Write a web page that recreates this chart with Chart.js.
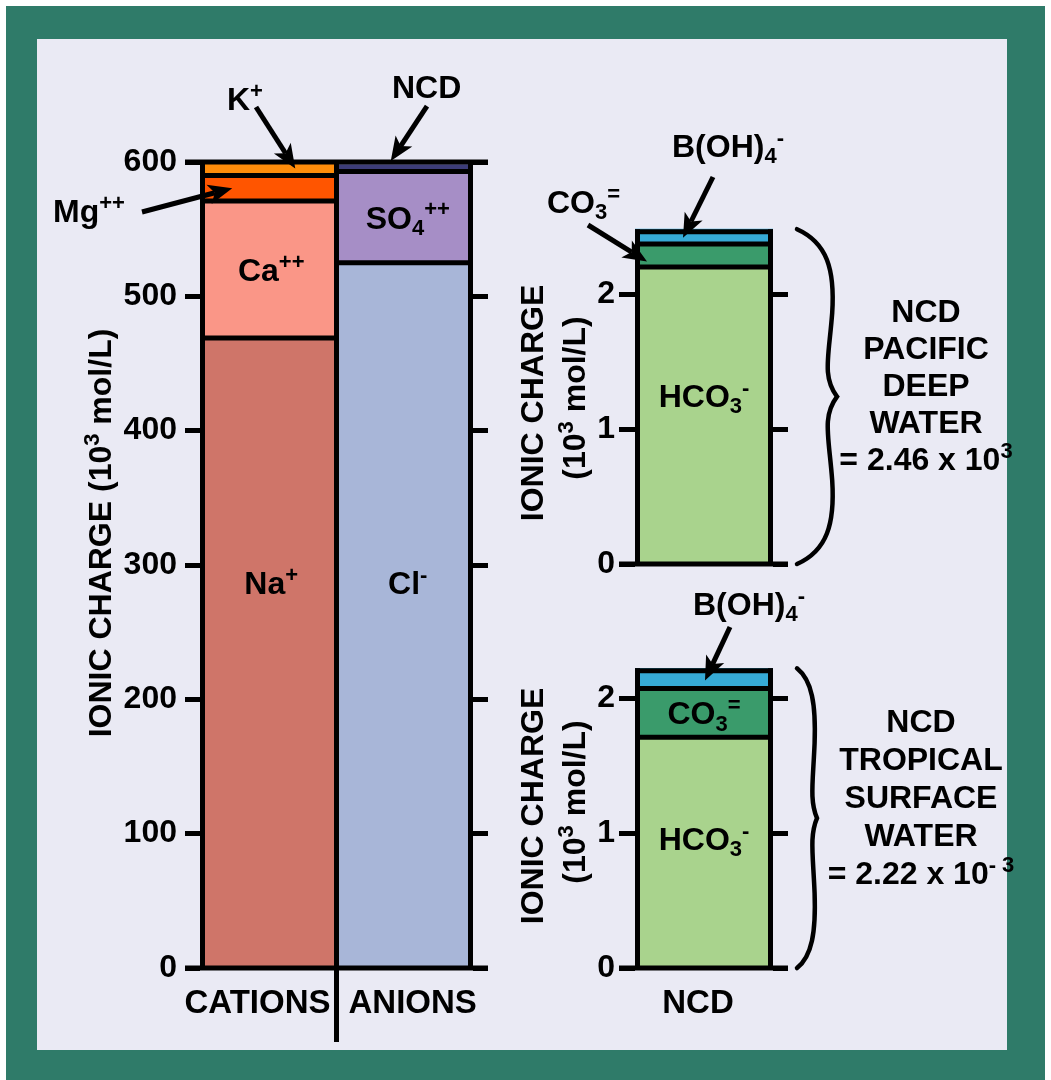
<!DOCTYPE html>
<html>
<head>
<meta charset="utf-8">
<script src="https://cdn.jsdelivr.net/npm/chart.js@4.4.1/dist/chart.umd.min.js"></script>
<style>
  html, body { margin: 0; padding: 0; background: #fff; }
  #frame { position: absolute; left: 6px; top: 6px; width: 1039px; height: 1074px; background: #2f7b69; }
  #panel { position: absolute; left: 37px; top: 39px; width: 970px; height: 1011px; background: #eaeaf4; }
  canvas { position: absolute; left: 0; top: 0; }
</style>
</head>
<body>
<div id="frame"></div>
<div id="panel"></div>
<canvas id="main" width="1051" height="1080"></canvas>
<canvas id="deep" width="1051" height="1080"></canvas>
<canvas id="surface" width="1051" height="1080"></canvas>
<script>
// seawater ionic charge (10^3 mol/L)
const mainCategories = ['CATIONS', 'ANIONS'];
const cationIons = ['Na^{+}', 'Ca^{++}', 'Mg^{++}', 'K^{+}'];
const cationValues = [469, 102, 19, 9];
const anionIons = ['Cl^{-}', 'SO_{4}^{++}', 'NCD'];
const anionValues = [525, 68, 5];
const mainTicks = [0, 100, 200, 300, 400, 500, 600];

// NCD bars
const ncdCategories = ['NCD'];
const ncdIons = ['HCO_{3}^{-}', 'CO_{3}^{=}', 'B(OH)_{4}^{-}'];
const deepValues = [2.2, 0.17, 0.11];
const surfaceValues = [1.71, 0.36, 0.15];
const ncdTicks = [0, 1, 2];

const cationColors = ['#cf7569', '#fa9687', '#ff5500', '#ff8c0a'];
const anionColors = ['#a8b6d8', '#a68ec6', '#3c3c78'];
const ncdColors = ['#a9d38d', '#3a9b6b', '#36aad6'];

const FONT = '"Liberation Sans", Arial, Helvetica, sans-serif';
const tickFont = { family: FONT, size: 32, weight: 'bold' };
const LW = 5;

// text with _{sub} and ^{sup}
function parseRich(s) {
  const parts = [];
  let i = 0, buf = '';
  while (i < s.length) {
    const ch = s[i];
    if ((ch === '^' || ch === '_') && s[i + 1] === '{') {
      if (buf) { parts.push({ t: buf, k: 0 }); buf = ''; }
      const end = s.indexOf('}', i);
      parts.push({ t: s.slice(i + 2, end), k: ch === '^' ? 1 : -1 });
      i = end + 1;
    } else { buf += ch; i++; }
  }
  if (buf) parts.push({ t: buf, k: 0 });
  return parts;
}

function drawRich(ctx, s, x, y, size, align) {
  const parts = parseRich(s);
  const small = Math.round(size * 0.7);
  const fontFor = k => 'bold ' + (k ? small : size) + 'px ' + FONT;
  let w = 0;
  parts.forEach(p => { ctx.font = fontFor(p.k); p.w = ctx.measureText(p.t).width; w += p.w; });
  let cx = align === 'center' ? x - w / 2 : align === 'right' ? x - w : x;
  ctx.textAlign = 'left';
  ctx.textBaseline = 'alphabetic';
  ctx.fillStyle = '#000';
  parts.forEach(p => {
    ctx.font = fontFor(p.k);
    const dy = p.k === 1 ? -size * 0.38 : p.k === -1 ? size * 0.2 : 0;
    ctx.fillText(p.t, cx, y + dy);
    cx += p.w;
  });
}

function drawRotated(ctx, s, x, y, size) {
  ctx.save();
  ctx.translate(x, y);
  ctx.rotate(-Math.PI / 2);
  drawRich(ctx, s, 0, 0, size, 'center');
  ctx.restore();
}

function line(ctx, x1, y1, x2, y2) {
  ctx.beginPath();
  ctx.moveTo(x1, y1);
  ctx.lineTo(x2, y2);
  ctx.stroke();
}

function arrow(ctx, x1, y1, x2, y2) {
  const a = Math.atan2(y2 - y1, x2 - x1), L = 24, W = 10;
  const c = Math.cos(a), s = Math.sin(a);
  const bx = x2 - L * c, by = y2 - L * s;
  ctx.lineWidth = LW;
  ctx.lineCap = 'butt';
  line(ctx, x1, y1, bx + 6 * c, by + 6 * s);
  ctx.beginPath();
  ctx.moveTo(x2, y2);
  ctx.lineTo(bx - W * s, by + W * c);
  ctx.lineTo(bx + 6 * c, by + 6 * s);
  ctx.lineTo(bx + W * s, by - W * c);
  ctx.closePath();
  ctx.fill();
}

function brace(ctx, x, yTop, yBot, w) {
  const h = yBot - yTop, ym = (yTop + yBot) / 2;
  ctx.lineWidth = 4.5;
  ctx.lineCap = 'round';
  ctx.beginPath();
  ctx.moveTo(x, yTop);
  ctx.bezierCurveTo(x + 0.75 * w, yTop + 0.04 * h, x + 0.95 * w, yTop + 0.12 * h, x + 0.88 * w, yTop + 0.25 * h);
  ctx.bezierCurveTo(x + 0.8 * w, yTop + 0.38 * h, x + 0.62 * w, ym - 0.06 * h, x + w, ym);
  ctx.bezierCurveTo(x + 0.62 * w, ym + 0.06 * h, x + 0.8 * w, yBot - 0.38 * h, x + 0.88 * w, yBot - 0.25 * h);
  ctx.bezierCurveTo(x + 0.95 * w, yBot - 0.12 * h, x + 0.75 * w, yBot - 0.04 * h, x, yBot);
  ctx.stroke();
}

// black outlines of the stacked segments, taken from the bar elements
function outlineBars(chart, capTop, frameTop) {
  const ctx = chart.ctx;
  const y0 = chart.scales.y.getPixelForValue(0);
  const sets = chart.data.datasets;
  const nCols = chart.data.labels.length;
  ctx.strokeStyle = '#000';
  ctx.lineWidth = LW;
  ctx.lineCap = 'butt';
  for (let j = 0; j < nCols; j++) {
    let topI = -1;
    sets.forEach((d, i) => { if (d.data[j] !== null && d.data[j] !== undefined) topI = i; });
    if (topI < 0) continue;
    const topEl = chart.getDatasetMeta(topI).data[j];
    const left = topEl.x - topEl.width / 2, right = topEl.x + topEl.width / 2;
    sets.forEach((d, i) => {
      if (d.data[j] === null || d.data[j] === undefined) return;
      const el = chart.getDatasetMeta(i).data[j];
      if (i !== topI) line(ctx, left, el.y, right, el.y);
      else if (capTop) line(ctx, left, el.y + LW / 2, right, el.y + LW / 2);
    });
    const yTop = frameTop !== undefined ? frameTop : topEl.y;
    line(ctx, j === 0 ? left + LW / 2 : left, yTop, j === 0 ? left + LW / 2 : left, y0);
    if (j === nCols - 1) line(ctx, right - LW / 2, yTop, right - LW / 2, y0);
  }
}

function axisY(pos, ticksArr, max, len, width, showLabels, pad) {
  return {
    position: pos,
    stacked: pos === 'left',
    min: 0,
    max: max,
    afterBuildTicks: s => { s.ticks = ticksArr.map(v => ({ value: v })); },
    ticks: { display: showLabels, color: '#000', font: tickFont, padding: pad },
    grid: { drawOnChartArea: false, drawTicks: true, tickLength: len, tickWidth: 5, tickColor: '#000' },
    border: { display: false },
    afterFit: s => { s.width = width; }
  };
}

const barBase = {
  borderWidth: 0,
  categoryPercentage: 1,
  barPercentage: 1
};

function segMid(el) { return (el.y + el.base) / 2; }
function elOf(chart, ds, bar) { return chart.getDatasetMeta(ds).data[bar]; }

// ---------- main chart ----------
const mainSets = cationIons.map((ion, i) => ({
  ...barBase,
  label: ion,
  data: [cationValues[i], null],
  backgroundColor: cationColors[i]
})).concat(anionIons.map((ion, j) => ({
  ...barBase,
  label: ion,
  data: [null, anionValues[j]],
  backgroundColor: anionColors[j]
})));

const mainDecor = {
  id: 'mainDecor',
  afterDatasetsDraw(chart) {
    const { ctx, chartArea: a } = chart;
    const x = chart.scales.x, y = chart.scales.y;
    const yMax = y.getPixelForValue(mainTicks[mainTicks.length - 1]);
    const y0 = y.getPixelForValue(0);
    ctx.save();
    ctx.fillStyle = '#000';
    outlineBars(chart, false, yMax);
    [y0, yMax].forEach(py => line(ctx, a.left - 15, py, a.right + 15, py));
    const xd = (x.getPixelForValue(0) + x.getPixelForValue(1)) / 2;
    line(ctx, xd, y0, xd, y0 + 74);
    drawRich(ctx, mainCategories[0], xd - 6, y0 + 45, 33, 'right');
    drawRich(ctx, mainCategories[1], xd + 12, y0 + 45, 33, 'left');

    // labels inside segments
    [{ ds: 0, bar: 0, at: 287 }, { ds: 1, bar: 0 }, { ds: 4, bar: 1, at: 287 }, { ds: 5, bar: 1 }].forEach(l => {
      const el = elOf(chart, l.ds, l.bar);
      const cy = l.at !== undefined ? y.getPixelForValue(l.at) : segMid(el);
      drawRich(ctx, chart.data.datasets[l.ds].label, el.x + 3, cy + 11.5, 32, 'center');
    });

    // callouts
    [
      { ds: 3, bar: 0, tx: 227, ty: 110, from: [256, 107], dx: 27, dy: -1 },
      { ds: 6, bar: 1, tx: 392, ty: 98, from: [427, 106], dx: -14, dy: -7 },
      { ds: 2, bar: 0, tx: 53, ty: 222, from: [142, 212], dx: -36, dy: 0 }
    ].forEach(c => {
      const el = elOf(chart, c.ds, c.bar);
      drawRich(ctx, chart.data.datasets[c.ds].label, c.tx, c.ty, 32, 'left');
      arrow(ctx, c.from[0], c.from[1], el.x + c.dx, segMid(el) + c.dy);
    });

    drawRotated(ctx, 'IONIC CHARGE (10^{3} mol/L)', 111, 533, 32);
    ctx.restore();
  }
};

new Chart(document.getElementById('main'), {
  type: 'bar',
  data: { labels: mainCategories, datasets: mainSets },
  options: {
    responsive: false,
    animation: false,
    events: [],
    layout: { padding: { left: 120, right: 563, top: 162, bottom: 112 } },
    scales: {
      x: { display: false, stacked: true },
      y: axisY('left', mainTicks, 600, 15, 80, true, 8),
      y2: axisY('right', mainTicks, 600, 15, 15, false, 0)
    },
    plugins: { legend: { display: false }, tooltip: { enabled: false } }
  },
  plugins: [mainDecor]
});

// ---------- NCD charts ----------
function ncdChart(id, values, top, bottom, cfg) {
  const sets = ncdIons.map((ion, i) => ({
    ...barBase,
    label: ion,
    data: [values[i]],
    backgroundColor: ncdColors[i]
  }));
  const decor = {
    id: 'ncdDecor',
    afterDatasetsDraw(chart) {
      const { ctx, chartArea: a } = chart;
      const x = chart.scales.x, y = chart.scales.y;
      ctx.save();
      ctx.fillStyle = '#000';
      outlineBars(chart, true);
      const y0 = y.getPixelForValue(0);
      line(ctx, a.left - 16, y0, a.right + 15, y0);

      cfg.inside.forEach(l => {
        const el = elOf(chart, l.ds, 0);
        const cy = l.at !== undefined ? y.getPixelForValue(l.at) : segMid(el);
        drawRich(ctx, chart.data.datasets[l.ds].label, el.x, cy + 11.5, 32, 'center');
      });
      cfg.callouts.forEach(c => {
        const el = elOf(chart, c.ds, 0);
        drawRich(ctx, chart.data.datasets[c.ds].label, c.tx, c.ty, 32, 'left');
        arrow(ctx, c.from[0], c.from[1], el.x + c.dx, segMid(el) + c.dy);
      });

      const topEl = elOf(chart, ncdIons.length - 1, 0);
      brace(ctx, a.right + 24, topEl.y, y0, cfg.braceW);
      cfg.note.forEach((t, i) => drawRich(ctx, t, cfg.noteX, cfg.noteY + i * cfg.noteDy, 32, 'center'));

      drawRotated(ctx, 'IONIC CHARGE', 543, cfg.titleY[0], 32);
      drawRotated(ctx, '(10^{3} mol/L)', 585, cfg.titleY[1], 32);

      if (cfg.xLabel) drawRich(ctx, ncdCategories[0], x.getPixelForValue(0) - 6, y0 + 45, 33, 'center');
      ctx.restore();
    }
  };
  return new Chart(document.getElementById(id), {
    type: 'bar',
    data: { labels: ncdCategories, datasets: sets },
    options: {
      responsive: false,
      animation: false,
      events: [],
      layout: { padding: { left: 575, right: 264, top: top, bottom: 1080 - bottom } },
      scales: {
        x: { display: false, stacked: true },
        y: axisY('left', ncdTicks, 2.5, 16, 60, true, 4),
        y2: axisY('right', ncdTicks, 2.5, 15, 14, false, 0)
      },
      plugins: { legend: { display: false }, tooltip: { enabled: false } }
    },
    plugins: [decor]
  });
}

ncdChart('deep', deepValues, 226.5, 564, {
  inside: [{ ds: 0, at: 1.25 }],
  callouts: [
    { ds: 2, tx: 672, ty: 157, from: [713, 177], dx: -21, dy: 1 },
    { ds: 1, tx: 547, ty: 213, from: [588, 225], dx: -57, dy: 6 }
  ],
  braceW: 40,
  note: ['NCD', 'PACIFIC', 'DEEP', 'WATER', '= 2.46 x 10^{3}'],
  noteX: 926, noteY: 322, noteDy: 37,
  titleY: [403, 398],
  xLabel: false
});

ncdChart('surface', surfaceValues, 630.5, 968, {
  inside: [{ ds: 0, at: 0.96 }, { ds: 1 }],
  callouts: [
    { ds: 2, tx: 693, ty: 615, from: [730, 627], dx: 1, dy: 2 }
  ],
  braceW: 20,
  note: ['NCD', 'TROPICAL', 'SURFACE', 'WATER', '= 2.22 x 10^{- 3}'],
  noteX: 921, noteY: 732, noteDy: 38,
  titleY: [806, 802],
  xLabel: true
});
</script>
</body>
</html>
